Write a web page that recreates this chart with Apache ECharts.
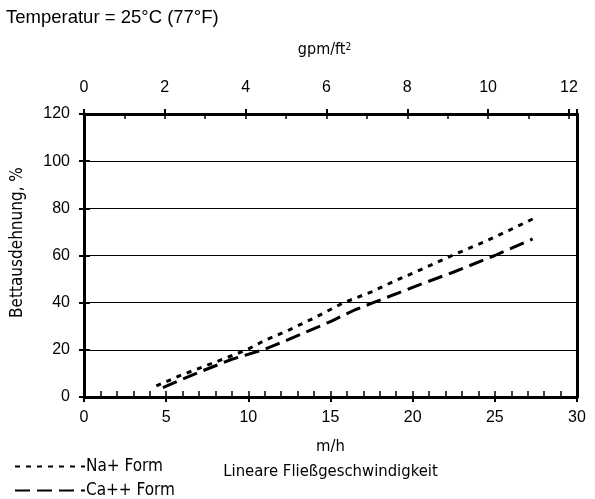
<!DOCTYPE html>
<html>
<head>
    <meta charset="utf-8">
    <title>Bettausdehnung</title>
    <script src="https://cdn.jsdelivr.net/npm/echarts@6/dist/echarts.min.js"></script>
</head>
<body style="margin:0">
<div id="main" style="width: 595px;height:499px;"></div>
<script type="text/javascript">
    // m/h (bottom axis) vs. bed expansion %
    var naX = [4.4, 6, 8, 9.9, 11, 12.5, 14, 15.8, 17.5, 19, 20.5, 22.4, 24.3, 25.9, 27.4];
    var naY = [4.7, 9.5, 14.8, 20, 24, 28.5, 33.5, 40, 44.6, 49.5, 54, 60, 65.6, 70.8, 75.8];
    var caX = [4.8, 7, 9, 10.9, 12.5, 15, 16.5, 17.6, 20, 22.5, 25, 27.3];
    var caY = [4, 10.5, 16, 20, 24.5, 32, 37, 40, 46.5, 53, 60, 67];
    var seriesNames = ['Na+ Form', 'Ca++ Form'];

    var sans = "Liberation Sans";
    var narrow = "DejaVu Sans Condensed";

    function pairs(xs, ys) {
        var out = [];
        for (var i = 0; i < xs.length; i++) out.push([xs[i], ys[i]]);
        return out;
    }

    var myChart = echarts.init(document.getElementById('main'));
    var lbl = {fontSize: 16, color: '#000', fontFamily: sans};

    var option = {
        animation: false,
        backgroundColor: '#fff',
        title: {
            text: 'Temperatur = 25°C (77°F)',
            left: 1, top: 3,
            textStyle: {fontSize: 18.5, fontWeight: 'normal', color: '#000', fontFamily: sans}
        },
        legend: {
            orient: 'vertical',
            left: 14, top: 458,
            itemWidth: 70, itemHeight: 12, itemGap: 7,
            padding: 0,
            itemStyle: {color: 'rgba(0,0,0,0)', borderWidth: 0, opacity: 0},
            textStyle: {fontSize: 17, lineHeight: 16, color: '#000', fontFamily: narrow, padding: [0, 0, 0, -4]},
            data: seriesNames
        },
        grid: {left: 84, right: 18, top: 114, bottom: 102, containLabel: false},
        xAxis: [
            {   // bottom, main
                type: 'value', position: 'bottom', min: 0, max: 30, interval: 5,
                axisLine: {show: true, onZero: false, lineStyle: {color: '#000', width: 3}},
                axisTick: {show: true, inside: true, length: 6, lineStyle: {color: '#000', width: 1.5}},
                minorTick: {show: true, splitNumber: 5, length: 6, lineStyle: {color: '#000', width: 1.5}},
                axisLabel: Object.assign({margin: 13}, lbl),
                splitLine: {show: false},
                name: 'm/h\nLineare Fließgeschwindigkeit',
                nameLocation: 'middle', nameGap: 37,
                nameTextStyle: {fontSize: 16.5, color: '#000', fontFamily: narrow, lineHeight: 25}
            },
            {   // bottom, outer ticks
                type: 'value', position: 'bottom', min: 0, max: 30, interval: 5,
                axisLine: {show: false, onZero: false},
                axisTick: {show: true, inside: false, length: 5, lineStyle: {color: '#000', width: 2}},
                axisLabel: {show: false}, splitLine: {show: false}
            },
            {   // top gpm/ft2
                type: 'value', position: 'top', min: 0, max: 12.2, interval: 2,
                axisLine: {show: true, onZero: false, lineStyle: {color: '#000', width: 3}},
                axisTick: {show: true, inside: true, length: 5, lineStyle: {color: '#000', width: 1.5}},
                minorTick: {show: true, splitNumber: 2, length: 5, lineStyle: {color: '#000', width: 1.5}},
                axisLabel: Object.assign({margin: 18, showMaxLabel: false}, lbl),
                splitLine: {show: false},
                name: 'gpm/ft{s|2}',
                nameLocation: 'middle', nameGap: 56,
                nameTextStyle: {
                    fontSize: 16, color: '#000', fontFamily: narrow, padding: [0, 12, 0, 0],
                    rich: {s: {fontSize: 10, color: '#000', fontFamily: narrow, verticalAlign: 'top', padding: [0, 0, 6, 0]}}
                }
            },
            {   // top, outer ticks
                type: 'value', position: 'top', min: 0, max: 12.2, interval: 2,
                axisLine: {show: false, onZero: false},
                axisTick: {show: true, inside: false, length: 5, lineStyle: {color: '#000', width: 2}},
                axisLabel: {show: false}, splitLine: {show: false}
            }
        ],
        yAxis: [
            {
                type: 'value', position: 'left', min: 0, max: 120, interval: 20,
                axisLine: {show: true, onZero: false, lineStyle: {color: '#000', width: 3}},
                axisTick: {show: true, inside: true, length: 6, lineStyle: {color: '#000', width: 2}},
                axisLabel: Object.assign({margin: 14}, lbl),
                splitLine: {show: true, lineStyle: {color: '#000', width: 1}},
                name: 'Bettausdehnung, %',
                nameLocation: 'middle', nameGap: 58,
                nameTextStyle: {fontSize: 17, color: '#000', fontFamily: narrow, padding: [0, 0, 0, 26]}
            },
            {
                type: 'value', position: 'left', min: 0, max: 120, interval: 20,
                axisLine: {show: false, onZero: false},
                axisTick: {show: true, inside: false, length: 5, lineStyle: {color: '#000', width: 2}},
                axisLabel: {show: false}, splitLine: {show: false}
            },
            {
                type: 'value', position: 'right', min: 0, max: 120, interval: 20,
                axisLine: {show: true, onZero: false, lineStyle: {color: '#000', width: 3}},
                axisTick: {show: false}, axisLabel: {show: false}, splitLine: {show: false}
            }
        ],
        series: [
            {
                name: seriesNames[0], type: 'line', xAxisIndex: 0, yAxisIndex: 0,
                symbol: 'none', data: pairs(naX, naY),
                itemStyle: {color: '#000'},
                lineStyle: {color: '#000', width: 3, type: [5, 6]}
            },
            {
                name: seriesNames[1], type: 'line', xAxisIndex: 0, yAxisIndex: 0,
                symbol: 'none', data: pairs(caX, caY),
                itemStyle: {color: '#000'},
                lineStyle: {color: '#000', width: 3, type: [15, 7]}
            }
        ]
    };

    myChart.setOption(option);
</script>
</body>
</html>
